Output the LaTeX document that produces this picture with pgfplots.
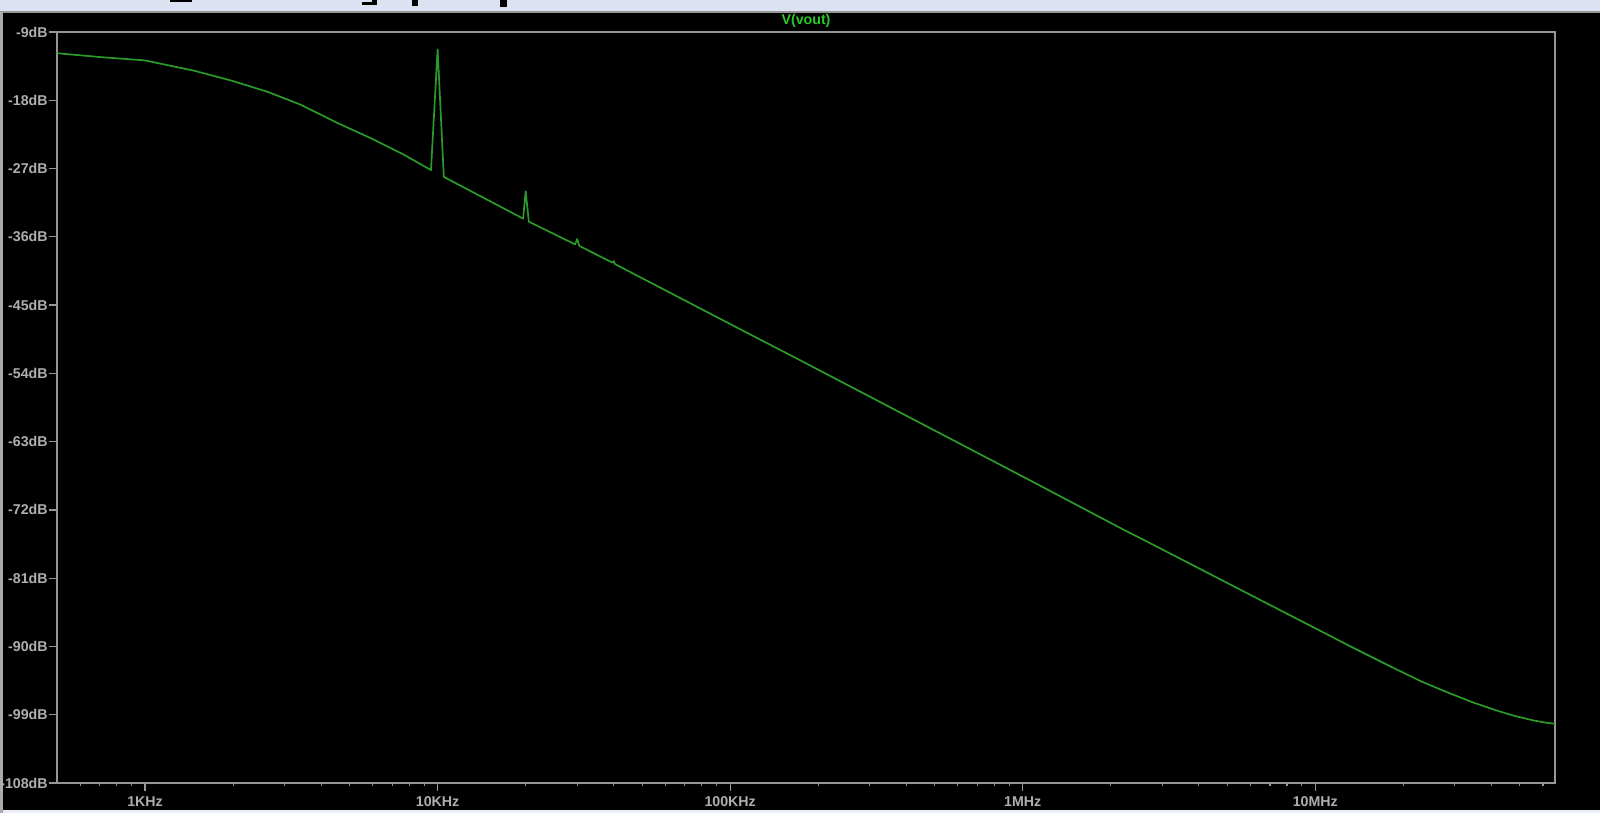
\documentclass[border=0pt]{standalone}
\usepackage{fontspec}
\setmainfont{Liberation Sans}
\usepackage{pgfplots}
\pgfplotsset{compat=1.18}
\definecolor{spbg}{RGB}{0,0,0}
\definecolor{spbar}{RGB}{220,226,242}
\definecolor{spaxis}{RGB}{150,150,150}
\definecolor{splabel}{RGB}{175,175,175}
\definecolor{sptitle}{RGB}{40,200,40}
\definecolor{sptrace}{RGB}{42,155,42}

\begin{document}
\begin{tikzpicture}
% window background, 1px = 0.5pt
\begin{scope}[x=0.5pt,y=0.5pt]
\useasboundingbox (0,0) rectangle (1600,813);
\fill[spbg] (0,0) rectangle (1600,813);
\fill[spbar] (0,801) rectangle (1600,813);
\draw[spaxis,line width=1pt] (0,801) -- (1600,801);
\fill[spbar!60!white] (0,0) rectangle (1600,3);
\draw[spaxis!80!white,line width=1.5pt] (1,0) -- (1,801);
% cut-off window title
\fill[black] (170,811) rectangle (192,813);
\fill[black] (362,808) rectangle (377,811);
\fill[black] (372,808) rectangle (377,813);
\fill[black] (412,807) rectangle (418,813);
\fill[black] (500,806) rectangle (507,813);
\node[text=sptitle,font=\fontsize{7.1}{8}\selectfont\bfseries] at (806,792) {V(vout)};
\end{scope}

\begin{axis}[
  at={(28.5pt,15pt)}, anchor=south west,
  scale only axis, width=749pt, height=375.5pt,
  xmode=log, xmin=500, xmax=6.6e7,
  ymin=-108, ymax=-9,
  axis line style={spaxis,line width=0.6pt},
  tick style={spaxis,line width=0.6pt},
  tick align=outside,
  xtick pos=bottom, ytick pos=left,
  xtick={1e3,1e4,1e5,1e6,1e7},
  xticklabels={1KHz,10KHz,100KHz,1MHz,10MHz},
  minor xtick={600,700,800,900,2e3,3e3,4e3,5e3,6e3,7e3,8e3,9e3,
    2e4,3e4,4e4,5e4,6e4,7e4,8e4,9e4,2e5,3e5,4e5,5e5,6e5,7e5,8e5,9e5,
    2e6,3e6,4e6,5e6,6e6,7e6,8e6,9e6,2e7,3e7,4e7,5e7,6e7},
  major tick length=4pt, minor tick length=1.5pt,
  ytick={-9,-18,-27,-36,-45,-54,-63,-72,-81,-90,-99,-108},
  yticklabels={-9dB,-18dB,-27dB,-36dB,-45dB,-54dB,-63dB,-72dB,-81dB,-90dB,-99dB,-108dB},
  ticklabel style={text=splabel,font=\fontsize{7.1}{8}\selectfont\bfseries},
  xticklabel style={anchor=north,inner sep=0pt,yshift=-2.5pt},
  yticklabel style={anchor=east,inner sep=0pt,xshift=-0.5pt},
]
\addplot[sptrace,line width=0.85pt,line join=round] coordinates {
  (500,-11.8) (700,-12.3) (1000,-12.75) (1470,-14.1) (1970,-15.4)
  (2630,-16.9) (3410,-18.6) (4550,-21.0) (5910,-23.0) (7690,-25.2)
  (9490,-27.2) (10000,-11.3) (10500,-28.1)
  (19600,-33.6) (20000,-30.0) (20500,-34.0)
  (29500,-37.0) (30000,-36.3) (30500,-37.2)
  (39600,-39.4) (40000,-39.2) (40400,-39.6)
  (100000,-47.5) (174000,-52.3) (1e6,-67.6)
  (2.21e6,-74.6) (2.73e6,-76.4) (6.0e6,-83.2) (1e7,-87.6)
  (1.32e7,-90.0) (1.8e7,-92.6) (2.3e7,-94.6) (2.89e7,-96.2) (3.5e7,-97.45)
  (4.29e7,-98.6) (4.8e7,-99.15) (5.56e7,-99.75) (6.1e7,-100.03) (6.6e7,-100.2)
};
\end{axis}
\end{tikzpicture}
\end{document}
